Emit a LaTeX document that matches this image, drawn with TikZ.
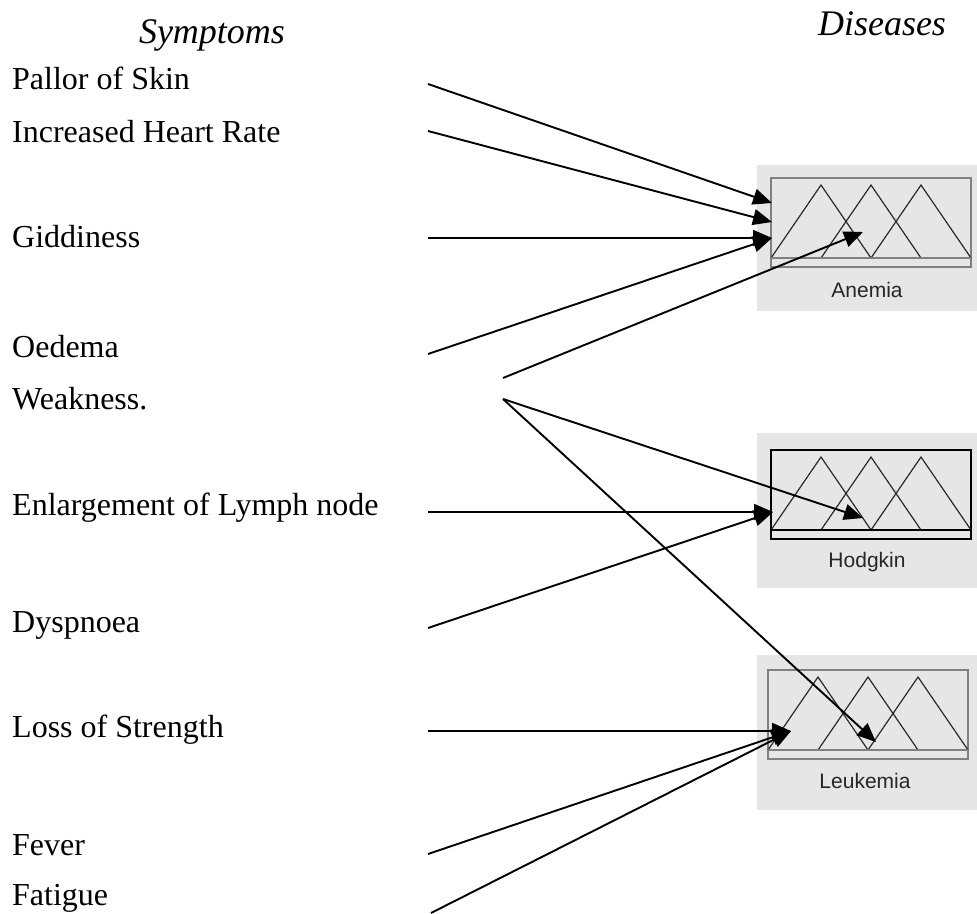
\documentclass[tikz,border=0pt]{standalone}
\usepackage{fontspec}
\setmainfont{Liberation Serif}
\newfontfamily\guifont{Liberation Sans}
\usetikzlibrary{arrows.meta}

\definecolor{panelbg}{HTML}{E6E6E6}
\definecolor{framegray}{HTML}{808080}
\definecolor{mfline}{HTML}{2A2A2A}
\definecolor{captext}{HTML}{262626}

\tikzset{
  symptom/.style={anchor=base west, inner sep=0pt, font=\fontsize{32}{38}\selectfont},
  heading/.style={anchor=base, inner sep=0pt, font=\fontsize{36}{42}\selectfont\itshape},
  caption/.style={anchor=base, inner sep=0pt, text=captext, font=\guifont\fontsize{21}{25}\selectfont},
  link/.style={line width=1.9pt, -{Triangle[length=19pt,width=16pt]}},
  panel/.style={fill=panelbg},
  % membership-function panel: frame, three triangular sets, axis line
  pics/mfset/.style={code={
    \draw[line width=2pt, #1, fill=panelbg] (0,0) rectangle (200,89);
    \draw[line width=1.2pt, mfline]
      (0,80) -- (50,7) -- (100,80)
      (50,80) -- (100,7) -- (150,80)
      (100,80) -- (150,7) -- (200,80);
    \draw[line width=2.2pt, #1] (0,80) -- (200,80);
  }}
}

\begin{document}
\begin{tikzpicture}[x=1pt,y=-1pt]
\useasboundingbox[fill=white] (0,0) rectangle (977,913);

% column headings
\node[heading] (hsym) at (212,43) {Symptoms};
\node[heading] (hdis) at (882,35) {Diseases};

% symptoms
\node[symptom] (pallor)  at (12,89)  {Pallor of Skin};
\node[symptom] (heart)   at (12,142) {Increased Heart Rate};
\node[symptom] (gidd)    at (12,247) {Giddiness};
\node[symptom] (oedema)  at (12,357) {Oedema};
\node[symptom] (weak)    at (12,409) {Weakness.};
\node[symptom] (lymph)   at (12,515) {Enlargement of Lymph node};
\node[symptom] (dysp)    at (12,632) {Dyspnoea};
\node[symptom] (loss)    at (12,737) {Loss of Strength};
\node[symptom] (fever)   at (12,855) {Fever};
\node[symptom] (fatigue) at (12,905) {Fatigue};

% disease panels
\fill[panel] (757,165) rectangle (977,311);
\pic (anemia) at (771,178) {mfset=framegray};
\node[caption] (anemia-name) at (867,297) {Anemia};

\fill[panel] (757,433) rectangle (977,588);
\pic (hodgkin) at (771,450) {mfset=black};
\node[caption] (hodgkin-name) at (867,567) {Hodgkin};

\fill[panel] (757,655) rectangle (977,810);
\pic (leuk) at (768,670) {mfset=framegray};
\node[caption] (leuk-name) at (865,788) {Leukemia};

% line start points beside the symptoms
\coordinate (pallor-out)  at (428,84);
\coordinate (heart-out)   at (428,131);
\coordinate (gidd-out)    at (428,238);
\coordinate (oedema-out)  at (428,354);
\coordinate (weak-outA)   at (503,378);
\coordinate (weak-outB)   at (503,399);
\coordinate (lymph-out)   at (428,512);
\coordinate (dysp-out)    at (428,628);
\coordinate (loss-out)    at (428,731);
\coordinate (fever-out)   at (428,854);
\coordinate (fatigue-out) at (431,913);

% arrow targets on the panels
\coordinate (anemia-in1) at (772,203);
\coordinate (anemia-in2) at (772,222);
\coordinate (anemia-in3) at (772,238);
\coordinate (anemia-mid) at (863,232);
\coordinate (hodgkin-in)  at (773,512);
\coordinate (hodgkin-mid) at (863,518);
\coordinate (leuk-in)  at (791,731);
\coordinate (leuk-mid) at (876,742);

% symptom -> disease links
\draw[link] (pallor-out) -- (anemia-in1);
\draw[link] (heart-out)  -- (anemia-in2);
\draw[link] (gidd-out)   -- (anemia-in3);
\draw[link] (oedema-out) -- (anemia-in3);
\draw[link] (weak-outA)  -- (anemia-mid);

\draw[link] (weak-outB)  -- (hodgkin-mid);
\draw[link] (lymph-out)  -- (hodgkin-in);
\draw[link] (dysp-out)   -- (hodgkin-in);

\draw[link] (weak-outB)   -- (leuk-mid);
\draw[link] (loss-out)    -- (leuk-in);
\draw[link] (fever-out)   -- (leuk-in);
\draw[link] (fatigue-out) -- (leuk-in);
\end{tikzpicture}
\end{document}
